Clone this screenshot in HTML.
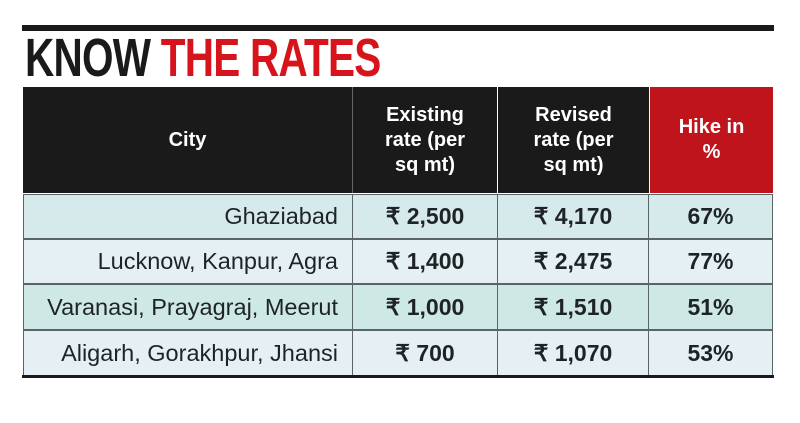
<!DOCTYPE html>
<html><head><meta charset="utf-8"><style>
body{margin:0;width:800px;height:423px;background:#fff;position:relative;overflow:hidden;font-family:"Liberation Sans",sans-serif}
.a{position:absolute}
.title{left:25px;top:31px;font-weight:bold;font-size:54px;letter-spacing:-1px;line-height:54px;transform:scaleX(0.75);transform-origin:left;color:#1a1a1a;white-space:nowrap}
.hd{background:#1b1a1b;color:#fff;font-weight:bold;font-size:20px;line-height:25px;display:flex;align-items:center;justify-content:center;text-align:center}
.c{display:flex;align-items:center;box-sizing:border-box;font-size:22px;color:#1e2426}
.n{justify-content:center;font-weight:bold;font-size:23px}
.city{justify-content:flex-end;padding-right:14px;font-size:23.5px;letter-spacing:0}
</style></head><body>
<div class="a" style="left:22px;top:25px;width:752px;height:6px;background:#1a1a1a"></div>
<div class="a title">KNOW <span style="color:#d7141c">THE RATES</span></div>
<div class="a hd" style="left:23px;top:87px;width:329px;height:106px">City</div>
<div class="a hd" style="left:353px;top:87px;width:144px;height:106px">Existing<br>rate (per<br>sq mt)</div>
<div class="a hd" style="left:498px;top:87px;width:151px;height:106px">Revised<br>rate (per<br>sq mt)</div>
<div class="a hd" style="left:650px;top:87px;width:123px;height:106px;background:#c0141c">Hike in<br>%</div>
<div class="a" style="left:352px;top:87px;width:1px;height:106px;background:#666"></div>

<div class="a" style="left:23px;top:194px;width:750px;height:182px;background:#5a6466"></div>
<div class="a c city" style="left:24px;top:195px;width:328px;height:43px;background:#d6eaec">Ghaziabad</div>
<div class="a c n" style="left:353px;top:195px;width:144px;height:43px;background:#d6eaec">₹ 2,500</div>
<div class="a c n" style="left:498px;top:195px;width:150px;height:43px;background:#d6eaec">₹ 4,170</div>
<div class="a c n" style="left:649px;top:195px;width:123px;height:43px;background:#d6eaec">67%</div>

<div class="a c city" style="left:24px;top:240px;width:328px;height:43px;background:#e4f0f3">Lucknow, Kanpur, Agra</div>
<div class="a c n" style="left:353px;top:240px;width:144px;height:43px;background:#e4f0f3">₹ 1,400</div>
<div class="a c n" style="left:498px;top:240px;width:150px;height:43px;background:#e4f0f3">₹ 2,475</div>
<div class="a c n" style="left:649px;top:240px;width:123px;height:43px;background:#e4f0f3">77%</div>

<div class="a c city" style="left:24px;top:285px;width:328px;height:44px;background:#cde8e5">Varanasi, Prayagraj, Meerut</div>
<div class="a c n" style="left:353px;top:285px;width:144px;height:44px;background:#cde8e5">₹ 1,000</div>
<div class="a c n" style="left:498px;top:285px;width:150px;height:44px;background:#cde8e5">₹ 1,510</div>
<div class="a c n" style="left:649px;top:285px;width:123px;height:44px;background:#cde8e5">51%</div>

<div class="a c city" style="left:24px;top:331px;width:328px;height:44px;background:#e6eff3">Aligarh, Gorakhpur, Jhansi</div>
<div class="a c n" style="left:353px;top:331px;width:144px;height:44px;background:#e6eff3">₹ 700</div>
<div class="a c n" style="left:498px;top:331px;width:150px;height:44px;background:#e6eff3">₹ 1,070</div>
<div class="a c n" style="left:649px;top:331px;width:123px;height:44px;background:#e6eff3">53%</div>
<div class="a" style="left:22px;top:375px;width:752px;height:3px;background:#1a1a1a"></div>
</body></html>
